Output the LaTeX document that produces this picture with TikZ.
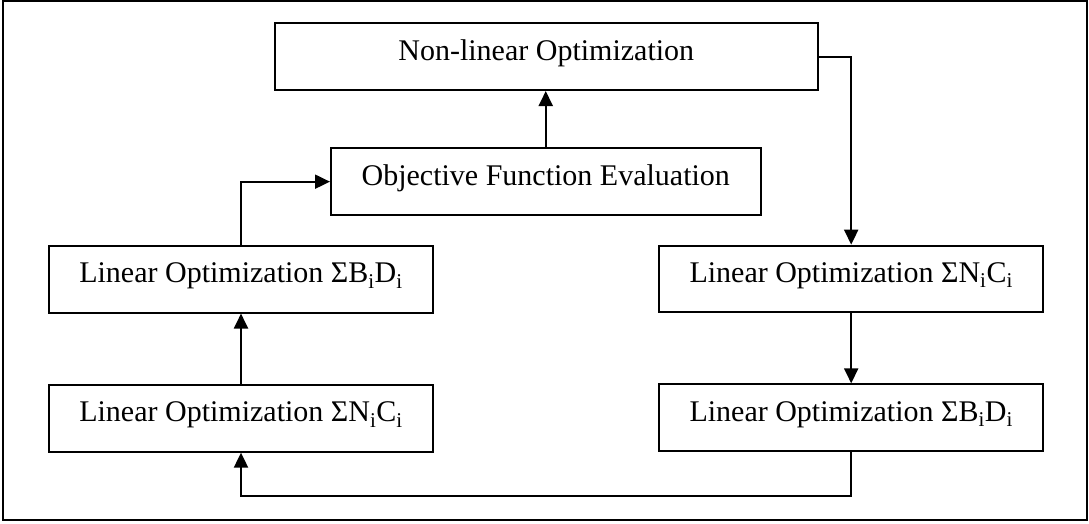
\documentclass[tikz,border=0pt]{standalone}
\usepackage{fontspec}
\setmainfont{Liberation Serif}
\usetikzlibrary{arrows.meta}
\begin{document}
\begin{tikzpicture}[x=1pt,y=-1pt,
  box/.style={draw,line width=2pt,inner sep=0pt,text height=37pt,text depth=29.7pt,
    font=\fontsize{30}{36}\selectfont},
  arr/.style={line width=2pt,-{Triangle[length=15pt,width=14pt]}}]
\useasboundingbox (0,0) rectangle (1089,523);
\draw[line width=2.2pt] (3,1) rectangle (1087,520);
\node[box,minimum width=542.5pt] (nl)  at (546.25,56.67) {Non-linear Optimization};
\node[box,minimum width=429.5pt] (obj) at (545.75,181.67) {Objective Function Evaluation};
\node[box,minimum width=384pt] (lbd) at (241,279.2) {Linear Optimization ΣB\textsubscript{i}D\textsubscript{i}};
\node[box,minimum width=384pt] (lnc) at (241,418.3) {Linear Optimization ΣN\textsubscript{i}C\textsubscript{i}};
\node[box,minimum width=384.3pt] (rnc) at (851.2,279) {Linear Optimization ΣN\textsubscript{i}C\textsubscript{i}};
\node[box,minimum width=384.3pt] (rbd) at (851.2,417.7) {Linear Optimization ΣB\textsubscript{i}D\textsubscript{i}};
\coordinate (bot) at (851.2,496);
\draw[arr] (obj.north) -- (obj.north |- nl.south);
\draw[arr] (lbd.north) |- (obj.west);
\draw[arr] (lnc.north) -- (lbd.south);
\draw[arr] (nl.east) -| (rnc.north);
\draw[arr] (rnc.south) -- (rbd.north);
\draw[arr] (rbd.south) -- (bot) -| (lnc.south);
\end{tikzpicture}
\end{document}
